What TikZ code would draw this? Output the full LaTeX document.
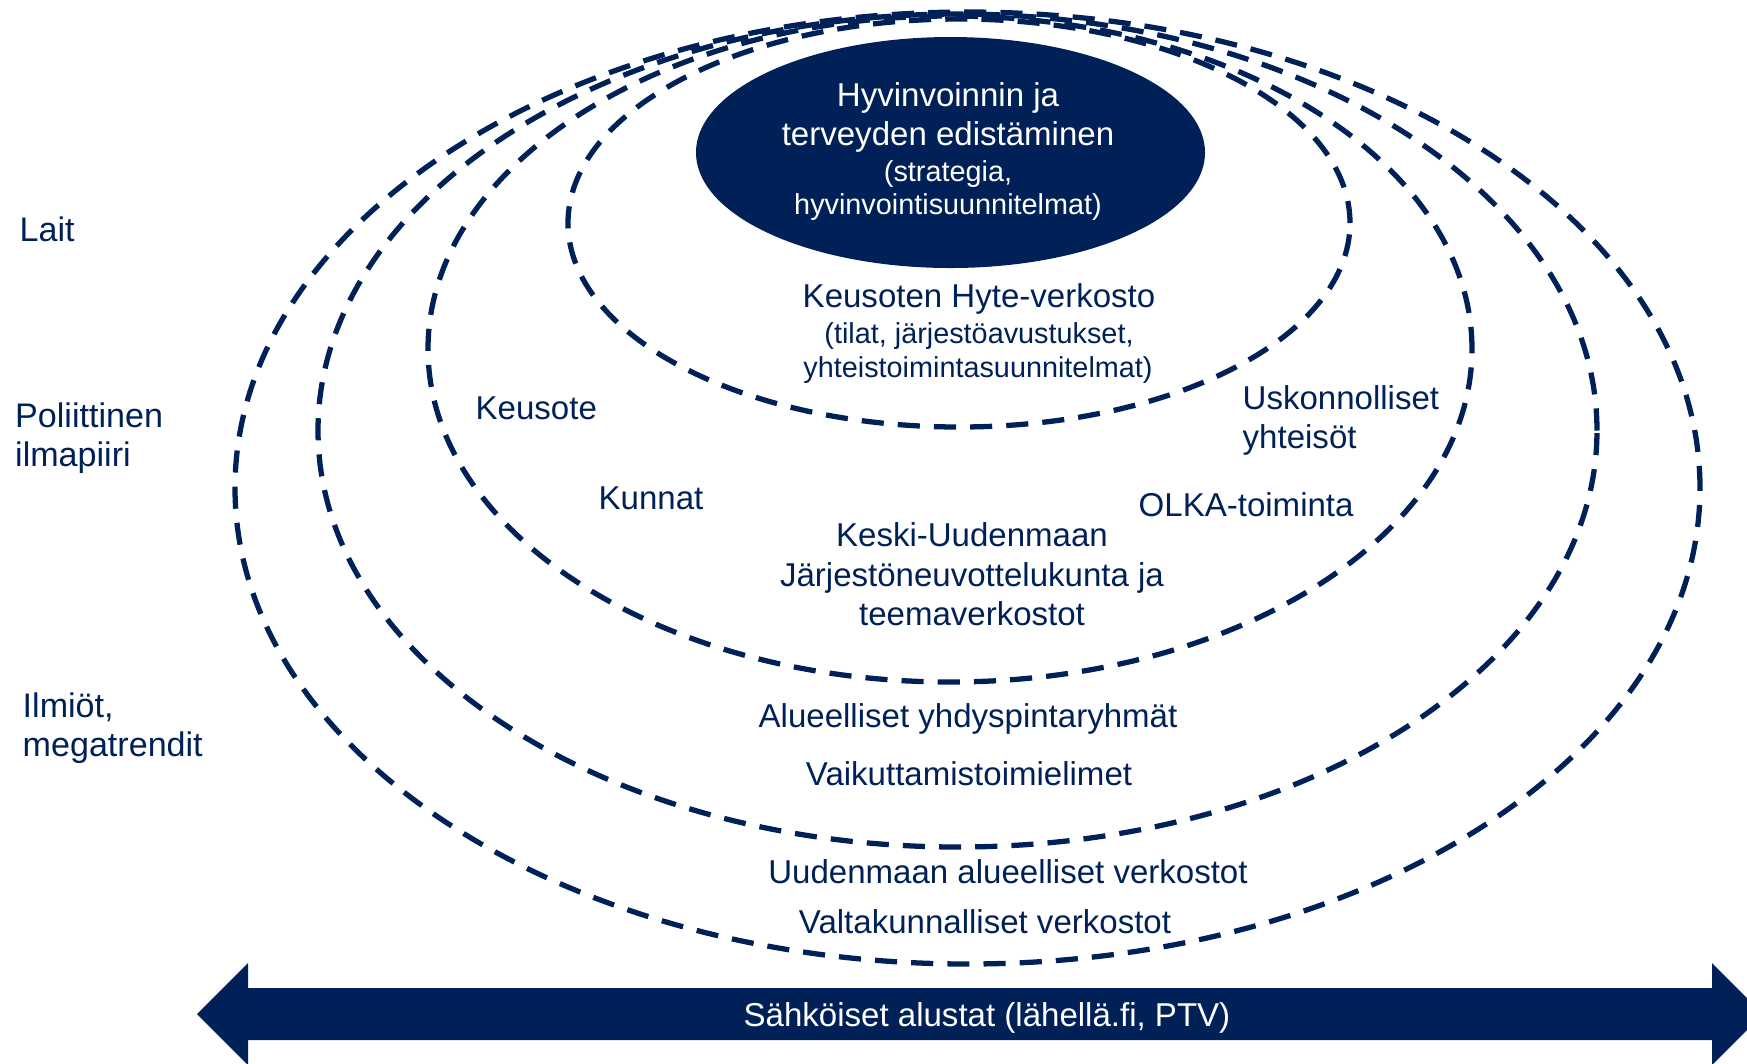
\documentclass[tikz,border=0pt]{standalone}
\usepackage{fontspec}
\setmainfont{Liberation Sans}
\definecolor{navy}{RGB}{0,33,88}
\begin{document}
\begin{tikzpicture}[x=0.1mm,y=-0.1mm,
  ring/.style={draw=navy, line width=1.5pt, dash pattern=on 6.3pt off 4pt},
  lbl/.style={text=navy, font=\fontsize{9.4}{11.3}\selectfont, inner sep=0pt, anchor=base},
  sublbl/.style={text=navy, font=\fontsize{8.2}{9.5}\selectfont, inner sep=0pt, anchor=base},
  side/.style={text=navy, font=\fontsize{9.7}{11.2}\selectfont, inner sep=0pt, anchor=base west},
  inv/.style={text=white},
]
\useasboundingbox (0,0) rectangle (1747,1063);
\clip (0,0) rectangle (1747,1063);

% nested dashed rings
\draw[ring] (967.5,488) ellipse [x radius=73.25mm, y radius=47.6mm];
\draw[ring] (957.5,430.5) ellipse [x radius=63.95mm, y radius=41.65mm];
\draw[ring] (950,349) ellipse [x radius=52.2mm, y radius=33.3mm];
\draw[ring] (959,223) ellipse [x radius=39.1mm, y radius=20.4mm];

% filled core
\fill[navy] (950.5,152.5) ellipse [x radius=25.45mm, y radius=11.55mm];
\node[lbl,inv] (core1) at (948,106) {Hyvinvoinnin ja};
\node[lbl,inv] (core2) at (948,145) {terveyden edistäminen};
\node[sublbl,inv] (core3) at (948,181) {(strategia,};
\node[sublbl,inv] (core4) at (948,214) {hyvinvointisuunnitelmat)};

% ring 1 labels
\node[lbl] (hyte1) at (979,307) {Keusoten Hyte-verkosto};
\node[sublbl] (hyte2) at (979,343) {(tilat, järjestöavustukset,};
\node[sublbl] (hyte3) at (978,377) {yhteistoimintasuunnitelmat)};

% ring 2 labels
\node[lbl,anchor=base west] (keusote) at (475,419) {Keusote};
\node[lbl,anchor=base west] (kunnat) at (598,509) {Kunnat};
\node[lbl,anchor=base west] (usk1) at (1242,409) {Uskonnolliset};
\node[lbl,anchor=base west] (usk2) at (1242,448) {yhteisöt};
\node[lbl,anchor=base west] (olka) at (1138,516) {OLKA-toiminta};
\node[lbl] (keski1) at (972,546) {Keski-Uudenmaan};
\node[lbl] (keski2) at (972,586) {Järjestöneuvottelukunta ja};
\node[lbl] (keski3) at (972,625) {teemaverkostot};

% ring 3 labels
\node[lbl] (alue) at (968,727) {Alueelliset yhdyspintaryhmät};
\node[lbl] (vaik) at (969,785) {Vaikuttamistoimielimet};

% ring 4 labels
\node[lbl] (uusimaa) at (1008,883) {Uudenmaan alueelliset verkostot};
\node[lbl] (valta) at (985,933) {Valtakunnalliset verkostot};

% side labels
\node[side] (lait) at (19,241) {Lait};
\node[side] (pol1) at (14.5,427) {Poliittinen};
\node[side] (pol2) at (14.5,466) {ilmapiiri};
\node[side] (ilm1) at (22,717) {Ilmiöt,};
\node[side] (ilm2) at (22,756) {megatrendit};

% double arrow
\fill[navy] (197,1014) -- (248,963) -- (248,988) -- (1712,988) -- (1712,963)
  -- (1763,1014) -- (1712,1065) -- (1712,1040) -- (248,1040) -- (248,1065) -- cycle;
\node[lbl,inv] (alustat) at (987,1026) {Sähköiset alustat (lähellä.fi, PTV)};
\end{tikzpicture}
\end{document}
